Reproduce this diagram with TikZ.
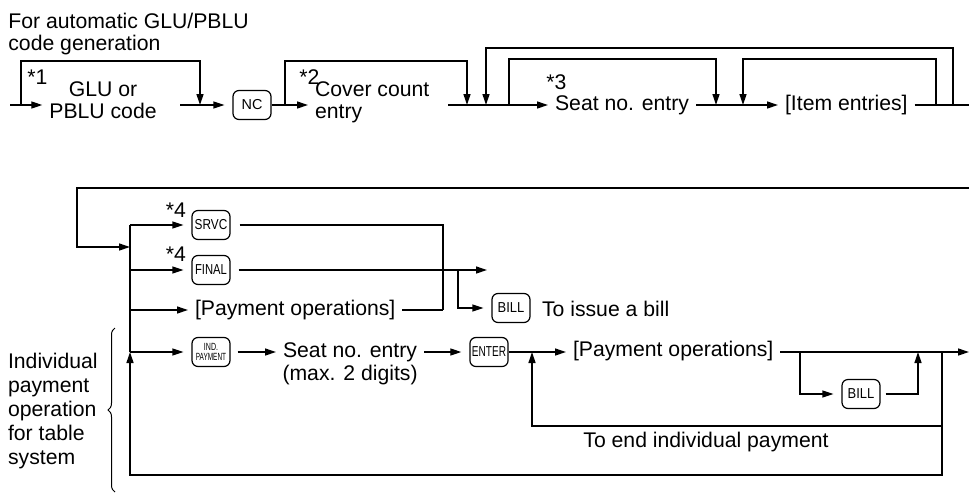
\documentclass[tikz,border=0pt]{standalone}
\usepackage{fontspec}
\setmainfont{Liberation Sans}
\usetikzlibrary{arrows.meta,positioning,decorations.pathreplacing}
\newcommand{\keylbl}[2]{\scalebox{#1}[1]{#2}}
\tikzset{
  flow/.style={-{Triangle[length=5.5pt,width=3.5pt]}, line width=0.65pt},
  wire/.style={line width=0.65pt},
  keygap/.style={shorten >=4pt},
  keybox/.style={draw, line width=0.6pt, rounded corners=3pt, minimum width=19pt, minimum height=14.5pt, inner sep=1pt, font=\fontsize{7.2}{7.2}\selectfont},
  lbl/.style={font=\fontsize{10.6}{10.8}\selectfont},
  note/.style={font=\fontsize{10.6}{10.8}\selectfont, inner sep=0pt}
}

\begin{document}
\begin{tikzpicture}[x=0.5pt, y=-0.5pt]
  \useasboundingbox (0,0) rectangle (969,493);
  % Top row: GLU/PBLU code and cover count
  \node[note, align=left, anchor=north west] (head) at (8,13) {For automatic GLU/PBLU\\code generation};
  \coordinate (a0) at (10,105);
  \coordinate (a1) at (21,105);
  \coordinate (a2) at (200,105);
  \coordinate (a3) at (180,105);
  \coordinate (a4) at (285,105);
  \node[lbl, align=center] (glu) at (103,100) {GLU or\\PBLU code};
  \node[note, anchor=west] (star1) at (27,77) {*1};
  \node[keybox] (nc) at (252,105) {NC};
  \node[note, anchor=west] (star2) at (299,77) {*2};
  \node[lbl, align=left, anchor=west] (cover) at (308,102) {Cover count\\entry};
  \draw[flow] (a0) -- (a0 -| glu.west);
  \draw[flow] (a1) -- ++(0,-44) -| (a2);
  \draw[flow, keygap] (a3) -- (nc);
  \draw[flow] (nc) -- (a4 -| cover.west);
  \coordinate (a5) at (467,105);
  \draw[flow] (a4) -- ++(0,-44) -| (a5);
  % Top row: seat no. and item entries
  \coordinate (a6) at (448,105);
  \coordinate (a7) at (486,105);
  \coordinate (a8) at (509,105);
  \coordinate (a9) at (716,105);
  \coordinate (a10) at (743,105);
  \coordinate (a11) at (936,105);
  \coordinate (a12) at (953,105);
  \coordinate (a13) at (969,105);
  \node[lbl, anchor=west] (seat) at (548,105) {Seat no. entry};
  \node[note, anchor=west] (star3) at (546,82) {*3};
  \node[lbl, anchor=west] (item) at (778,105) {[Item entries]};
  \draw[flow] (a6) -- (seat);
  \draw[flow] (seat) -- (item);
  \draw[wire] (item) -- (a13);
  \draw[flow] (a12) -- ++(0,-57) -| (a7);
  \draw[flow] (a8) -- ++(0,-46) -| (a9);
  \draw[flow] (a11) -- ++(0,-46) -| (a10);
  % Second part: bus and key branches
  \coordinate (b0) at (969,188);
  \coordinate (b1) at (77,247);
  \coordinate (bin) at (130,247);
  \coordinate (bt) at (130,225);
  \coordinate (b2) at (130,270);
  \coordinate (b3) at (130,310);
  \coordinate (b4) at (130,352);
  \draw[flow] (b0) -| (b1) -- (bin);
  \draw[wire] (bt) -- (b4);
  \node[keybox] (srvc) at (211,225) {\keylbl{0.82}{SRVC}};
  \node[keybox] (final) at (211,270) {\keylbl{0.78}{FINAL}};
  \node[lbl, anchor=west] (pay1) at (188,310) {[Payment operations]};
  \node[keybox, font=\fontsize{5.2}{5}\selectfont, align=center] (indpay) at (211,352) {\keylbl{0.68}{IND.}\\\keylbl{0.62}{PAYMENT}};
  \node[note] (star4a) at (176,210) {*4};
  \node[note] (star4b) at (176,254) {*4};
  \draw[flow, keygap] (bt) -- (srvc);
  \draw[flow, keygap] (b2) -- (final);
  \draw[flow] (b3) -- (pay1);
  \draw[flow, keygap] (b4) -- (indpay);
  % SRVC / FINAL outputs
  \coordinate (c1) at (443,310);
  \coordinate (c2) at (487,270);
  \coordinate (c3) at (458,270);
  \draw[wire, shorten <=4.5pt] (srvc) -| (c1);
  \draw[wire] (pay1) -- (c1);
  \draw[flow, shorten <=4pt] (final) -- (c2);
  \node[keybox] (bill1) at (511,308) {\keylbl{0.9}{BILL}};
  \draw[flow, keygap] (c3) |- (bill1);
  \node[lbl, anchor=west] (issue) at (535,309) {To issue a bill};
  % Individual payment row
  \node[lbl, anchor=west] (seat2) at (276,352) {Seat no. entry};
  \node[lbl, below=-5.5pt of seat2] (maxdig) {(max. 2 digits)};
  \node[keybox] (enter) at (489,352) {\keylbl{0.7}{ENTER}};
  \node[lbl, anchor=west] (pay2) at (566,351) {[Payment operations]};
  \node[keybox] (bill2) at (861,394) {\keylbl{0.9}{BILL}};
  \draw[flow, shorten <=3.5pt] (indpay) -- (seat2);
  \draw[flow, keygap] (seat2) -- (enter);
  \draw[flow] (enter) -- (enter -| pay2.west);
  \coordinate (d0) at (969,352);
  \coordinate (d1) at (800,352);
  \coordinate (d2) at (918,352);
  \coordinate (d3) at (942,352);
  \coordinate (d4) at (532,352);
  \coordinate (d5) at (942,426);
  \coordinate (d6) at (942,475);
  \draw[flow] (pay2.east |- d0) -- (d0);
  \draw[flow, keygap] (d1) |- (bill2);
  \draw[flow, shorten <=2.5pt] (bill2) -| (d2);
  \draw[flow] (d3) -- (d5) -| (d4);
  \draw[flow] (d5) -- (d6) -| (b4);
  \node[lbl] (endind) at (706,442) {To end individual payment};
  % Brace and side text
  \coordinate (e0) at (115,492);
  \coordinate (e1) at (115,328);
  \draw[line width=0.5pt, decorate, decoration={brace, amplitude=3.5pt}] (e0) -- (e1);
  \node[lbl, align=left, anchor=west, font=\fontsize{10.6}{12}\selectfont] (indtext) at (1,411) {Individual\\payment\\operation\\for table\\system};
\end{tikzpicture}
\end{document}
